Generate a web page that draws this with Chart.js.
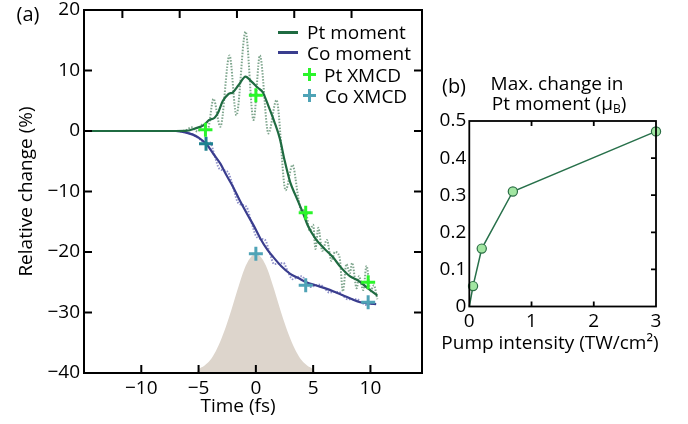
<!DOCTYPE html>
<html>
<head>
<meta charset="utf-8">
<script src="https://cdn.jsdelivr.net/npm/chart.js@4"></script>
<style>
body { margin: 0; background: #fff; font-family: 'Open Sans', sans-serif; }
#wrap { position: relative; width: 688px; height: 424px; overflow: hidden; }
canvas { position: absolute; }
.t { position: absolute; white-space: nowrap; font-size: 19px; line-height: 1; color: #000; transform: translate(-50%, -50%); }
.l { position: absolute; white-space: nowrap; font-size: 19px; line-height: 1; color: #000; transform: translate(0, -50%); }
.sw { position: absolute; height: 2.5px; width: 20px; }
.cx { position: absolute; width: 13px; height: 13px; }
.cx:before, .cx:after { content: ""; position: absolute; background: currentColor; }
.cx:before { left: 0; top: 5px; width: 13px; height: 3px; }
.cx:after { left: 5px; top: 0; width: 3px; height: 13px; }
sub { font-size: 12px; vertical-align: -3px; }
</style>
</head>
<body>
<div id="wrap">
  <canvas id="chartA" width="440" height="424" style="left:0;top:0"></canvas>
  <canvas id="chartB" width="288" height="364" style="left:400px;top:60px"></canvas>

  <div class="t" style="left:28px;top:14px;font-size:20px">(a)</div>
  <div class="t" style="left:238px;top:405px">Time (fs)</div>

  <div class="sw" style="left:278px;top:31px;background:#1f6b41"></div>
  <div class="l" style="left:307px;top:32px">Pt moment</div>
  <div class="sw" style="left:278px;top:51px;background:#3a3d8e"></div>
  <div class="l" style="left:307px;top:53px">Co moment</div>
  <div class="cx" style="left:303px;top:68px;color:#2af52a"></div>
  <div class="l" style="left:324px;top:75px">Pt XMCD</div>
  <div class="cx" style="left:303px;top:89px;color:#4fa3b6"></div>
  <div class="l" style="left:325px;top:96px">Co XMCD</div>

  <div class="t" style="left:454px;top:86px;font-size:20px">(b)</div>
  <div class="t" style="left:557px;top:83px">Max. change in</div>
  <div class="t" style="left:559px;top:104px">Pt moment (μ<sub>B</sub>)</div>
  <div class="t" style="left:550px;top:342px">Pump intensity (TW/cm²)</div>
</div>

<script>
// panel (a): relative change (%) vs time (fs)
let ptTime = [-15, -7, -6, -5.5, -5, -4.5, -4.1, -3.6, -3.3, -2.9, -2.4, -2.0, -1.5, -0.9, -0.4, 0.2, 0.6, 1.1, 1.6, 2.1, 2.5, 3.0, 3.5, 4.1, 4.5, 5.2, 5.9, 6.7, 7.4, 8.2, 8.9, 9.7, 10.6];
let ptMoment = [0, 0, 0.05, 0.3, 0.6, 1.0, 1.8, 2.2, 3.0, 4.9, 6.1, 6.4, 7.6, 9.0, 8.2, 7.1, 6.4, 4.1, 1.6, -1.3, -4.8, -8.5, -10.8, -13.5, -15.5, -17.8, -19.3, -20.8, -22.5, -24.0, -24.7, -25.9, -27.2];

let ptRawTime = [-15, -7, -6.2, -5.6, -5.1, -4.6, -4.2, -3.7, -3.1, -2.3, -1.7, -0.9, -0.2, 0.35, 1.1, 1.8, 2.6, 3.2, 3.7, 4.0, 4.3, 4.7, 5.0, 5.2, 5.45, 5.8, 6.2, 6.6, 6.9, 7.3, 7.6, 7.9, 8.2, 8.4, 8.8, 9.0, 9.37, 9.66, 10.0, 10.3, 10.6];
let ptRaw = [0, 0, 0.05, 0.6, -0.1, 1.2, 0.3, 5.3, 0.7, 12.5, 2.6, 16.4, 1.8, 12.5, -0.4, 5.1, -9.8, -5.6, -11.0, -13.5, -12.8, -16.5, -15.5, -19.5, -16.0, -19.8, -18.0, -21.5, -20.0, -20.8, -26.5, -22.0, -23.5, -21.8, -26.0, -24.0, -26.3, -22.3, -26.5, -25.5, -27.8];

let coTime = [-15, -7, -6.5, -6, -5.5, -5, -4.3, -3.7, -3.1, -2.6, -2.0, -1.4, -0.8, -0.2, 0.4, 1.0, 1.5, 2.2, 3.0, 3.7, 4.4, 5.2, 6.2, 7.0, 7.9, 8.5, 9.1, 9.8, 10.5];
let coMoment = [0, 0, -0.1, -0.3, -0.6, -1.1, -2.2, -3.8, -5.4, -7.2, -9.2, -11.5, -13.6, -15.6, -17.8, -19.6, -20.8, -22.3, -23.6, -24.3, -25.0, -25.5, -26.1, -26.7, -27.4, -27.9, -28.3, -28.5, -28.6];

let coRawTime = [-15, -7, -6, -5.6, -5.2, -4.8, -4.4, -4.0, -3.6, -3.2, -2.8, -2.4, -2.0, -1.6, -1.2, -0.8, -0.4, 0.0, 0.4, 0.8, 1.2, 1.6, 2.0, 2.4, 2.8, 3.2, 3.6, 4.0, 4.4, 4.8, 5.2, 5.6, 6.0, 6.4, 6.8, 7.2, 7.6, 8.0, 8.4, 8.8, 9.2, 9.6, 10.0, 10.4];
let coRaw = [0, 0, -0.3, -0.5, -0.9, -1.5, -2.0, -1.9, -4.1, -6.2, -6.5, -6.9, -9.2, -11.7, -12.2, -12.6, -15.0, -17.3, -17.8, -18.0, -20.1, -22.0, -21.9, -21.8, -23.3, -24.5, -24.2, -24.0, -25.0, -25.8, -25.5, -25.4, -26.0, -26.7, -26.6, -26.6, -27.2, -27.8, -27.8, -27.8, -28.3, -28.75, -28.55, -28.6];

let ptXmcdTime = [-4.4, 0, 4.35, 9.8];
let ptXmcd = [0.2, 5.9, -13.5, -25.0];
let coXmcdTime = [-4.35, 0, 4.35, 9.8];
let coXmcd = [-2.1, -20.3, -25.5, -28.3];

let pulseTime = [-5.2, -5, -4.5, -4, -3.5, -3, -2.5, -2, -1.5, -1, -0.5, 0, 0.5, 1, 1.5, 2, 2.5, 3, 3.5, 4, 4.5, 5, 5.2];
let pulse = [-40, -39.4, -38.8, -37.9, -36.4, -34.3, -31.7, -28.7, -25.6, -22.8, -21.0, -20.3, -21.0, -22.8, -25.6, -28.7, -31.7, -34.3, -36.4, -37.9, -38.8, -39.4, -40];

let timeTicks = [-10, -5, 0, 5, 10];
let timeTopTicks = [-11.65, -6.65, -1.65, 3.35, 8.35];
let changeSideTicks = [10, 0, -10, -20, -30];

// panel (b): max change in Pt moment vs pump intensity
let intensity = [0, 0.06, 0.2, 0.7, 3.0];
let maxChange = [0, 0.055, 0.156, 0.31, 0.472];

Chart.defaults.font.family = "'Open Sans', sans-serif";
Chart.defaults.font.size = 19;
Chart.defaults.color = "#000";

function pts(xs, ys) {
    return xs.map(function (x, i) { return { x: x, y: ys[i] }; });
}

function minusFmt(v) {
    return v < 0 ? "\u2212" + Math.abs(v) : "" + v;
}

// frame round the plot area plus inward tick marks
function frameTicks(spec) {
    return {
        id: "frameTicks",
        afterDraw(chart) {
            const ctx = chart.ctx;
            const a = chart.chartArea;
            const sx = chart.scales.x, sy = chart.scales.y;
            ctx.save();
            ctx.strokeStyle = "#000";
            ctx.lineWidth = spec.width;
            ctx.beginPath();
            (spec.bottom || []).forEach(function (v) {
                let x = sx.getPixelForValue(v);
                ctx.moveTo(x, a.bottom); ctx.lineTo(x, a.bottom - spec.len);
            });
            (spec.top || []).forEach(function (v) {
                let x = sx.getPixelForValue(v);
                ctx.moveTo(x, a.top); ctx.lineTo(x, a.top + spec.len);
            });
            (spec.left || []).forEach(function (v) {
                let y = sy.getPixelForValue(v);
                ctx.moveTo(a.left, y); ctx.lineTo(a.left + spec.len, y);
            });
            (spec.right || []).forEach(function (v) {
                let y = sy.getPixelForValue(v);
                ctx.moveTo(a.right, y); ctx.lineTo(a.right - spec.len, y);
            });
            ctx.stroke();
            ctx.strokeRect(a.left, a.top, a.right - a.left, a.bottom - a.top);
            ctx.restore();
        }
    };
}

var chartA = new Chart(document.getElementById("chartA"), {
    type: "line",
    data: {
        datasets: [
            {
                label: "Pt XMCD",
                data: pts(ptXmcdTime, ptXmcd),
                showLine: false,
                pointStyle: "cross",
                pointRadius: 7,
                pointBorderWidth: 3,
                pointBorderColor: "#2af52a"
            },
            {
                label: "Co XMCD",
                data: pts(coXmcdTime, coXmcd),
                showLine: false,
                pointStyle: "cross",
                pointRadius: 7,
                pointBorderWidth: 3,
                pointBorderColor: ["#1f8290", "#4fa3b6", "#4fa3b6", "#4fa3b6"]
            },
            {
                label: "Pt moment",
                data: pts(ptTime, ptMoment),
                borderColor: "#1f6b41",
                borderWidth: 2.2,
                pointRadius: 0,
                cubicInterpolationMode: "monotone"
            },
            {
                label: "Co moment",
                data: pts(coTime, coMoment),
                borderColor: "#3a3d8e",
                borderWidth: 2.2,
                pointRadius: 0,
                cubicInterpolationMode: "monotone"
            },
            {
                label: "Pt raw",
                data: pts(ptRawTime, ptRaw),
                borderColor: "#7fa68e",
                borderWidth: 2,
                borderDash: [1.5, 1.5],
                pointRadius: 0,
                cubicInterpolationMode: "monotone"
            },
            {
                label: "Co raw",
                data: pts(coRawTime, coRaw),
                borderColor: "#8f91c9",
                borderWidth: 2,
                borderDash: [1.5, 1.5],
                pointRadius: 0,
                cubicInterpolationMode: "monotone"
            },
            {
                label: "pump pulse",
                data: pts(pulseTime, pulse),
                borderWidth: 0,
                borderColor: "rgba(0,0,0,0)",
                backgroundColor: "#ddd5cc",
                fill: { value: -40 },
                pointRadius: 0,
                cubicInterpolationMode: "monotone"
            }
        ]
    },
    options: {
        responsive: false,
        animation: false,
        layout: { padding: { left: 0, top: 10, right: 18, bottom: 0 } },
        plugins: {
            legend: { display: false },
            tooltip: { enabled: false }
        },
        scales: {
            x: {
                type: "linear",
                min: -15,
                max: 14.5,
                grid: { display: false, drawTicks: false },
                border: { display: false },
                afterBuildTicks: function (s) { s.ticks = timeTicks.map(function (v) { return { value: v }; }); },
                afterFit: function (s) { s.height = 51; s.paddingLeft = 0; s.paddingRight = 0; },
                ticks: { padding: 4, maxRotation: 0, autoSkip: false, callback: minusFmt }
            },
            y: {
                min: -40,
                max: 20,
                grid: { display: false, drawTicks: false },
                border: { display: false },
                afterFit: function (s) { s.width = 84; s.paddingTop = 0; s.paddingBottom = 0; },
                ticks: { stepSize: 10, padding: 4, callback: minusFmt },
                title: { display: true, text: "Relative change (%)", padding: { top: 15, bottom: 0 } }
            }
        }
    },
    plugins: [frameTicks({ width: 2, len: 8, bottom: timeTicks, top: timeTopTicks, left: changeSideTicks, right: changeSideTicks })]
});

var chartB = new Chart(document.getElementById("chartB"), {
    type: "line",
    data: {
        datasets: [{
            label: "Max. change",
            data: pts(intensity, maxChange),
            borderColor: "#27704a",
            borderWidth: 1.5,
            pointRadius: [0, 4.6, 4.6, 4.6, 4.6],
            pointBackgroundColor: "#a2e6a2",
            pointBorderColor: "#2b6e45",
            pointBorderWidth: 1.2,
            clip: false
        }]
    },
    options: {
        responsive: false,
        animation: false,
        layout: { padding: { left: 0, top: 61, right: 32, bottom: 0 } },
        plugins: {
            legend: { display: false },
            tooltip: { enabled: false }
        },
        scales: {
            x: {
                type: "linear",
                min: 0,
                max: 3,
                grid: { display: false, drawTicks: false },
                border: { display: false },
                afterFit: function (s) { s.height = 117.5; s.paddingLeft = 0; s.paddingRight = 0; },
                ticks: { stepSize: 1, padding: 4, maxRotation: 0 }
            },
            y: {
                min: 0,
                max: 0.5,
                grid: { display: false, drawTicks: false },
                border: { display: false },
                afterFit: function (s) { s.width = 69.3; s.paddingTop = 0; s.paddingBottom = 0; },
                ticks: { stepSize: 0.1, padding: 3 }
            }
        }
    },
    plugins: [frameTicks({ width: 1.8, len: 5, bottom: [1, 2], top: [1, 2], right: [0.1, 0.2, 0.3, 0.4] })]
});
</script>
</body>
</html>
